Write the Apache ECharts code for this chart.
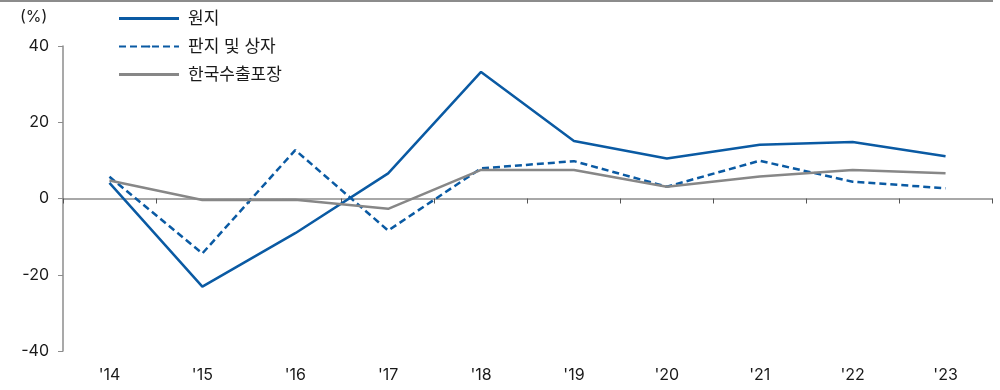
<!DOCTYPE html>
<html>
<head>
<meta charset="utf-8">
<script src="https://cdn.jsdelivr.net/npm/echarts@6/dist/echarts.min.js"></script>
<style>
  html, body { margin: 0; padding: 0; background: #fff; }
  #chart { width: 1000px; height: 390px; }
</style>
</head>
<body>
<div id="chart"></div>
<script>
// Year-over-year growth (%), 2014–2023
const years = ["'14", "'15", "'16", "'17", "'18", "'19", "'20", "'21", "'22", "'23"];
const paperboard = [4.1, -23.1, -9.1, 6.6, 33.2, 15.1, 10.5, 14.1, 14.8, 11.1];   // 원지
const boxes = [5.7, -14.4, 12.7, -8.4, 7.9, 9.8, 3.1, 9.9, 4.4, 2.7];             // 판지 및 상자
const exportPack = [4.7, -0.4, -0.3, -2.7, 7.5, 7.5, 3.1, 5.8, 7.5, 6.6];          // 한국수출포장
const yTicks = { min: -40, max: 40, interval: 20 };

const BLUE = '#0a5aa3';
const GREY = '#878787';
const AXIS = '#8c8c8c';
const FONT = 'Inter, "Noto Sans CJK KR", sans-serif';

const chart = echarts.init(document.getElementById('chart'), null, { renderer: 'canvas' });
chart.setOption({
  animation: false,
  textStyle: { fontFamily: FONT },
  graphic: [
    { type: 'line', shape: { x1: 0, y1: 1, x2: 993, y2: 1 }, style: { stroke: AXIS, lineWidth: 2 } },
    { type: 'text', left: 20, top: 9, style: { text: '(%)', font: '16px ' + FONT, fill: '#1a1a1a' } }
  ],
  legend: {
    orient: 'vertical',
    left: 113,
    top: 5,
    itemWidth: 60,
    itemHeight: 3,
    itemGap: 11,
    textStyle: { fontSize: 17, color: '#1a1a1a', fontFamily: FONT, padding: [0, 0, 0, 4] },
    data: [
      { name: '원지', icon: 'rect' },
      { name: '판지 및 상자' },
      { name: '한국수출포장', icon: 'rect' }
    ]
  },
  grid: { left: 63, right: 8, top: 46, bottom: 39 },
  xAxis: {
    type: 'category',
    data: years,
    boundaryGap: true,
    axisLine: { onZero: true, lineStyle: { color: AXIS, width: 1.5 } },
    axisTick: { show: true, length: 5, lineStyle: { color: '#555' } },
    axisLabel: { color: '#1a1a1a', fontSize: 16, fontFamily: FONT, interval: 0, margin: 16 }
  },
  yAxis: {
    type: 'value',
    min: yTicks.min, max: yTicks.max, interval: yTicks.interval,
    axisLine: { show: true, lineStyle: { color: AXIS, width: 1.5 } },
    axisTick: { show: true, length: 5, lineStyle: { color: AXIS } },
    splitLine: { show: false },
    axisLabel: { color: '#1a1a1a', fontSize: 16, margin: 14 }
  },
  series: [
    {
      name: '원지', type: 'line', data: paperboard,
      symbol: 'none', lineStyle: { color: BLUE, width: 2.5 }, itemStyle: { color: BLUE }
    },
    {
      name: '판지 및 상자', type: 'line', data: boxes,
      symbol: 'none', lineStyle: { color: BLUE, width: 2.5, type: [7, 4] }, itemStyle: { color: BLUE }
    },
    {
      name: '한국수출포장', type: 'line', data: exportPack,
      symbol: 'none', lineStyle: { color: GREY, width: 2.5 }, itemStyle: { color: GREY }
    }
  ]
});
</script>
</body>
</html>
